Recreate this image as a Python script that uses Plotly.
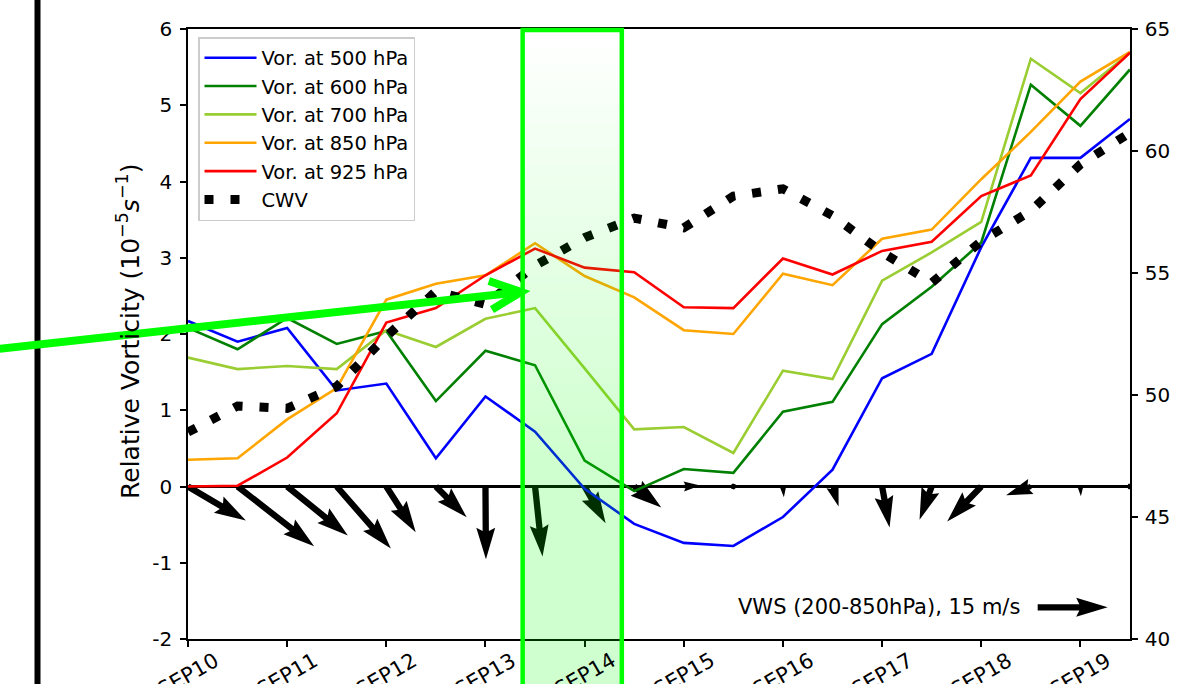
import math
import plotly.graph_objects as go

# ---------------------------------------------------------------- data
# time axis: days after 10 Sep 00Z, 12-hourly
t_days = [0.0, 0.5, 1.0, 1.5, 2.0, 2.5, 3.0, 3.5, 4.0, 4.5,
          5.0, 5.5, 6.0, 6.5, 7.0, 7.5, 8.0, 8.5, 9.0, 9.5]
day_ticks = [0, 1, 2, 3, 4, 5, 6, 7, 8, 9]
day_labels = ["SEP10", "SEP11", "SEP12", "SEP13", "SEP14",
              "SEP15", "SEP16", "SEP17", "SEP18", "SEP19"]

# relative vorticity (1e-5 s^-1)
vor500 = [2.17, 1.90, 2.08, 1.26, 1.35, 0.37, 1.18, 0.72, -0.03, -0.49,
          -0.74, -0.78, -0.40, 0.22, 1.42, 1.74, 3.14, 4.31, 4.31, 4.82]
vor600 = [2.08, 1.80, 2.21, 1.87, 2.04, 1.12, 1.78, 1.59, 0.34, -0.06,
          0.23, 0.18, 0.98, 1.11, 2.13, 2.62, 3.20, 5.27, 4.73, 5.47]
vor700 = [1.69, 1.54, 1.58, 1.54, 2.05, 1.83, 2.20, 2.34, 1.55, 0.75,
          0.78, 0.44, 1.52, 1.41, 2.70, 3.07, 3.47, 5.61, 5.16, 5.69]
vor850 = [0.35, 0.37, 0.88, 1.29, 2.45, 2.66, 2.77, 3.19, 2.76, 2.48,
          2.05, 2.00, 2.79, 2.64, 3.25, 3.37, 4.03, 4.65, 5.31, 5.70]
vor925 = [0.00, 0.01, 0.38, 0.96, 2.15, 2.34, 2.77, 3.12, 2.87, 2.81,
          2.35, 2.34, 2.99, 2.78, 3.09, 3.21, 3.81, 4.08, 5.08, 5.69]

# column water vapour (mm), right axis
cwv = [48.48, 49.55, 49.45, 50.35, 52.40, 54.25, 53.72, 55.30, 56.45, 57.25,
       56.85, 58.15, 58.45, 57.35, 55.85, 54.60, 56.30, 57.55, 59.45, 60.75]

# 200-850 hPa vertical wind shear components (m/s)
vws_u = [12.4, 16.4, 13.0, 11.6, 6.3, 6.6, 0.1, 1.6, 4.5, 5.8,
         3.5, 1.2, 0.2, 1.3, 1.6, -2.6, -7.3, -5.3, 0.1, 0.0]
vws_v = [-7.3, -12.8, -10.5, -13.3, -9.8, -6.6, -15.6, -15.0, -7.9, -4.5,
         0.2, -0.4, -2.3, -4.3, -8.8, -7.1, -7.5, -1.9, -2.1, 0.0]
vws_key = 15.0

vor_ticks = [-2, -1, 0, 1, 2, 3, 4, 5, 6]
vor_ticklabels = ["-2", "-1", "0", "1", "2", "3", "4", "5", "6"]
cwv_ticks = [40, 45, 50, 55, 60, 65]

# ---------------------------------------------------------------- geometry
W, H = 1180, 684
ML, MR, MT, MB = 188, 50, 29, 45
PW, PH = W - ML - MR, H - MT - MB
X_RANGE = [0, 9.5]
Y_RANGE = [-2, 6]
Y2_RANGE = [40, 65]
PX_PER_DAY = PW / (X_RANGE[1] - X_RANGE[0])
PX_PER_UNIT = PH / (Y_RANGE[1] - Y_RANGE[0])

FONT = "DejaVu Sans"


def paper_x(px):
    return (px - ML) / PW


def paper_y(py):
    return (MT + PH - py) / PH


# ---------------------------------------------------------------- quiver
Q_WIDTH = 6.3            # shaft width in px
Q_PX_PER_MS = 70.0 / 15  # arrow length per m/s


def arrow_outline(length):
    """Arrow outline in shaft-width units (matplotlib quiver style)."""
    hl, hw, hal = 5.0, 3.0, 4.5
    minsh = hl
    if length < 1.0:
        th = [k * math.pi / 3 for k in range(8)]
        return [0.5 * math.cos(a) for a in th], [0.5 * math.sin(a) for a in th]
    if length < minsh:
        s = length / minsh
        xs = [0, minsh - hal, minsh - hl, minsh, minsh - hl, minsh - hal, 0, 0]
        ys = [0.5, 0.5, hw / 2, 0, -hw / 2, -0.5, -0.5, 0.5]
        return [s * v for v in xs], [s * v for v in ys]
    L = length
    xs = [0, L - hal, L - hl, L, L - hl, L - hal, 0, 0]
    ys = [0.5, 0.5, hw / 2, 0, -hw / 2, -0.5, -0.5, 0.5]
    return xs, ys


def add_arrow(xs_out, ys_out, x0, y0, u, v):
    dx, dy = u * Q_PX_PER_MS, v * Q_PX_PER_MS
    length = math.hypot(dx, dy) / Q_WIDTH
    ang = math.atan2(dy, dx)
    ca, sa = math.cos(ang), math.sin(ang)
    ax, ay = arrow_outline(length)
    for a, b in zip(ax, ay):
        px = (a * ca - b * sa) * Q_WIDTH
        py = (a * sa + b * ca) * Q_WIDTH
        xs_out.append(x0 + px / PX_PER_DAY)
        ys_out.append(y0 + py / PX_PER_UNIT)
    xs_out.append(None)
    ys_out.append(None)


qx, qy = [], []
for t, u, v in zip(t_days, vws_u, vws_v):
    add_arrow(qx, qy, t, 0.0, u, v)

# reference arrow for the key (axes-fraction position)
KEY_POS = (0.902, 0.052)
key_x = X_RANGE[0] + KEY_POS[0] * (X_RANGE[1] - X_RANGE[0])
key_y = Y_RANGE[0] + KEY_POS[1] * (Y_RANGE[1] - Y_RANGE[0])
add_arrow(qx, qy, key_x, key_y, vws_key, 0.0)

fig = go.Figure()
fig.add_trace(go.Scatter(x=qx, y=qy, mode="lines", fill="toself",
                         fillcolor="black", line=dict(width=0, color="black"),
                         hoverinfo="skip", showlegend=False))

series = [
    ("Vor. at 500 hPa", vor500, "#0000ff"),
    ("Vor. at 600 hPa", vor600, "#008000"),
    ("Vor. at 700 hPa", vor700, "#9acd32"),
    ("Vor. at 850 hPa", vor850, "#ffa500"),
    ("Vor. at 925 hPa", vor925, "#ff0000"),
]
for name, vals, col in series:
    fig.add_trace(go.Scatter(x=t_days, y=vals, mode="lines", name=name,
                             line=dict(color=col, width=2.6)))

fig.add_trace(go.Scatter(x=t_days, y=cwv, mode="lines", name="CWV", yaxis="y2",
                         line=dict(color="black", width=9, dash="9px,17px")))

# ---------------------------------------------------------------- decorations
shapes = []

# vertical black rule at the far left
shapes.append(dict(type="line", xref="paper", yref="paper",
                   x0=paper_x(37.5), x1=paper_x(37.5),
                   y0=paper_y(H + 10), y1=paper_y(-10),
                   line=dict(color="black", width=6), layer="above"))

# highlighted window (13 Sep 09Z - 14 Sep 09Z) with vertical gradient
HL_X0, HL_X1 = 3.375, 4.375
HL_TOP = 30.0
HL_BOTTOM = H + 20
N_STRIPS = 80
for k in range(N_STRIPS):
    y0 = HL_TOP + (HL_BOTTOM - HL_TOP) * k / N_STRIPS
    y1 = HL_TOP + (HL_BOTTOM - HL_TOP) * (k + 1) / N_STRIPS
    mid = 0.5 * (y0 + y1)
    a = 0.19 * min(1.0, (mid - HL_TOP) / 430.0)
    shapes.append(dict(type="rect", xref="paper", yref="paper",
                       x0=HL_X0 / X_RANGE[1], x1=HL_X1 / X_RANGE[1],
                       y0=paper_y(y1), y1=paper_y(y0),
                       fillcolor=f"rgba(0,255,0,{a:.4f})",
                       line=dict(width=0), layer="above"))
shapes.append(dict(type="rect", xref="paper", yref="paper",
                   x0=HL_X0 / X_RANGE[1], x1=HL_X1 / X_RANGE[1],
                   y0=paper_y(HL_BOTTOM), y1=paper_y(HL_TOP),
                   line=dict(color="#00ff00", width=4.5),
                   fillcolor="rgba(0,0,0,0)", layer="above"))

# green pointer arrow
TIP = (521.0, 292.0)
TAIL = (-12.0, 350.0)
dxp, dyp = TIP[0] - TAIL[0], TIP[1] - TAIL[1]
norm = math.hypot(dxp, dyp)
bx, by = -dxp / norm, -dyp / norm
ARM_LEN, ARM_ANG = 34.0, math.radians(25)
arms = []
for sgn in (1, -1):
    c, s = math.cos(sgn * ARM_ANG), math.sin(sgn * ARM_ANG)
    arms.append((TIP[0] + ARM_LEN * (bx * c - by * s),
                 TIP[1] + ARM_LEN * (bx * s + by * c)))
shapes.append(dict(type="line", xref="paper", yref="paper",
                   x0=paper_x(TAIL[0]), y0=paper_y(TAIL[1]),
                   x1=paper_x(TIP[0] + 3 * bx), y1=paper_y(TIP[1] + 3 * by),
                   line=dict(color="#00ff00", width=8), layer="above"))
path = "M {:.5f},{:.5f} L {:.5f},{:.5f} L {:.5f},{:.5f}".format(
    paper_x(arms[0][0]), paper_y(arms[0][1]),
    paper_x(TIP[0]), paper_y(TIP[1]),
    paper_x(arms[1][0]), paper_y(arms[1][1]))
shapes.append(dict(type="path", xref="paper", yref="paper", path=path,
                   line=dict(color="#00ff00", width=8), layer="above"))

annotations = []
for d, lab in zip(day_ticks, day_labels):
    annotations.append(dict(x=d, xref="x", y=paper_y(645), yref="paper",
                            text=lab, textangle=-30, showarrow=False,
                            xanchor="center", yanchor="top",
                            font=dict(family=FONT, size=21, color="black")))

annotations.append(dict(x=paper_x(128), xref="paper", y=paper_y(332), yref="paper",
                        text="Relative Vorticity (10<sup>\u22125</sup><i>s</i><sup>\u22121</sup>)",
                        textangle=-90, showarrow=False,
                        xanchor="center", yanchor="middle",
                        font=dict(family=FONT, size=25, color="black")))

annotations.append(dict(x=paper_x(1022), xref="paper", y=KEY_POS[1], yref="paper",
                        text="VWS (200-850hPa), 15 m/s", showarrow=False,
                        xanchor="right", yanchor="middle",
                        font=dict(family=FONT, size=21, color="black")))

axis_common = dict(showgrid=False, ticks="outside", ticklen=6, tickwidth=1.5,
                   tickcolor="black", showline=True, linecolor="black",
                   linewidth=1.6, tickfont=dict(family=FONT, size=20, color="black"))

fig.update_layout(
    width=W, height=H,
    margin=dict(l=ML, r=MR, t=MT, b=MB, pad=0),
    paper_bgcolor="white", plot_bgcolor="white",
    font=dict(family=FONT, color="black"),
    xaxis=dict(range=X_RANGE, tickvals=day_ticks, showticklabels=False,
               mirror=True, zeroline=False, **axis_common),
    yaxis=dict(range=Y_RANGE, tickvals=vor_ticks, ticktext=vor_ticklabels,
               zeroline=True, zerolinecolor="black", zerolinewidth=2.5,
               ticklabelstandoff=4, **axis_common),
    yaxis2=dict(range=Y2_RANGE, tickvals=cwv_ticks, overlaying="y", side="right",
                zeroline=False, ticklabelstandoff=3, automargin=False,
                **axis_common),
    legend=dict(x=paper_x(198), y=paper_y(37), xanchor="left", yanchor="top",
                bgcolor="rgba(255,255,255,0.8)", bordercolor="#cccccc",
                borderwidth=1.5, font=dict(family=FONT, size=19.5, color="black"),
                itemwidth=52, tracegroupgap=0),
    shapes=shapes,
    annotations=annotations,
    showlegend=True,
)

fig.write_html("out.html", config={"displayModeBar": False})
